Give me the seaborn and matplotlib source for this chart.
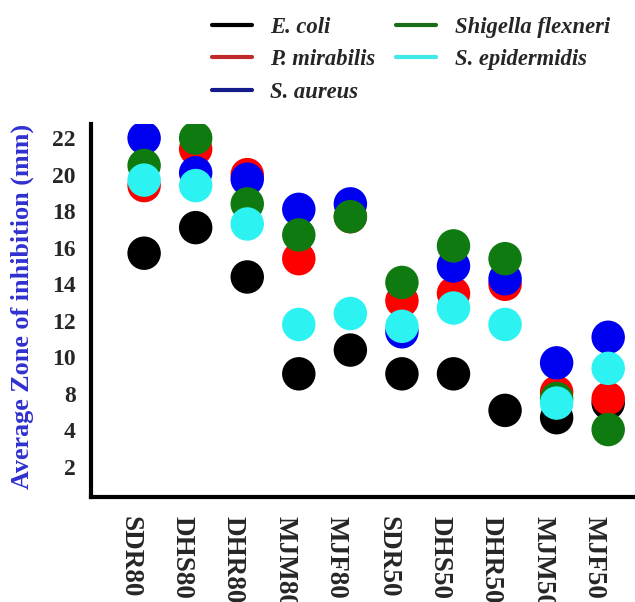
import numpy as np
import pandas as pd
import matplotlib
matplotlib.use("Agg")
import matplotlib.pyplot as plt
import seaborn as sns
from matplotlib.lines import Line2D

# ---- data (values on the chart's evenly spaced axis) ----
extracts = ["SDR80", "DHS80", "DHR80", "MJM80", "MJF80",
            "SDR50", "DHS50", "DHR50", "MJM50", "MJF50"]
e_coli        = [15.7, 17.1, 14.4, 9.1, 10.4, 9.1, 9.1, 7.1, 6.7, 7.5]
p_mirabilis   = [19.4, 21.4, 20.0, 15.4, 17.7, 13.1, 13.5, 14.0, 8.1, 7.75]
s_aureus      = [22.0, 20.1, 19.75, 18.1, 18.4, 11.4, 15.0, 14.3, 9.7, 11.1]
shigella      = [20.5, 22.0, 18.4, 16.7, 17.7, 14.1, 16.1, 15.4, 7.75, 6.05]
s_epidermidis = [19.7, 19.4, 17.3, 11.8, 12.4, 11.7, 12.7, 11.8, 7.5, 9.4]

series_names = ["E. coli", "P. mirabilis", "S. aureus",
                "Shigella flexneri", "S. epidermidis"]
series_vals = [e_coli, p_mirabilis, s_aureus, shigella, s_epidermidis]
colors = ["#000000", "#ff0000", "#0000f0", "#0f7a10", "#2cf2f2"]
legend_colors = ["#000000", "#c0282a", "#141c8c", "#1a6e1a", "#40e8e8"]

ytick_pos = [4, 6, 8, 10, 12, 14, 16, 18, 20, 22]
ytick_lab = ["2", "4", "8", "10", "12", "14", "16", "18", "20", "22"]

rows = []
for name, vals in zip(series_names, series_vals):
    for i, (ext, v) in enumerate(zip(extracts, vals)):
        rows.append({"idx": i, "extract": ext, "organism": name, "zone": v})
df = pd.DataFrame(rows)

sns.set_style("white")
serif = ["Liberation Serif", "DejaVu Serif"]
plt.rcParams["font.family"] = serif

fig = plt.figure(figsize=(6.35, 6.02), dpi=100)
ax = fig.add_axes([91/635, 1 - 497/602, 1 - 91/635, (497-124)/602])

sns.scatterplot(data=df, x="idx", y="zone", hue="organism",
                hue_order=series_names, palette=colors, s=580,
                edgecolor="none", linewidth=0, alpha=1, legend=False, ax=ax)

ax.set_xlim(-1.03, 9.52)
ax.set_ylim(2.36, 22.77)
# labels sit slightly left of their dot columns in the reference
ax.set_xticks(np.arange(len(extracts)) - 0.27)
ax.set_xticklabels(extracts, rotation=270, fontsize=19.5, fontweight="bold",
                   va="top", ha="center")
ax.set_yticks(ytick_pos)
ax.set_yticklabels(ytick_lab, fontsize=17, fontweight="bold")
ax.tick_params(axis="x", length=0, pad=14)
ax.tick_params(axis="y", length=0, pad=11)

ax.set_xlabel("")
ax.set_ylabel("Average Zone of inhibition (mm)", fontsize=18.8,
              fontweight="bold", color="#3030d0")
ax.yaxis.set_label_coords((34 - 91) / 544, 0.51)

for s in ["top", "right"]:
    ax.spines[s].set_visible(False)
for s in ["left", "bottom"]:
    ax.spines[s].set_linewidth(3)
    ax.spines[s].set_color("black")

handles = [Line2D([0], [0], color=c, lw=3) for c in legend_colors]
leg = fig.legend(handles, series_names, ncol=2, loc="upper left",
                 bbox_to_anchor=(212/635, 1 - 17/602), frameon=False,
                 borderpad=0, borderaxespad=0, handlelength=1.77,
                 handletextpad=0.8, columnspacing=0.93, labelspacing=0.5,
                 prop={"family": serif, "weight": "bold", "style": "italic",
                       "size": 16.3})

fig.savefig("out.png", dpi=100)
